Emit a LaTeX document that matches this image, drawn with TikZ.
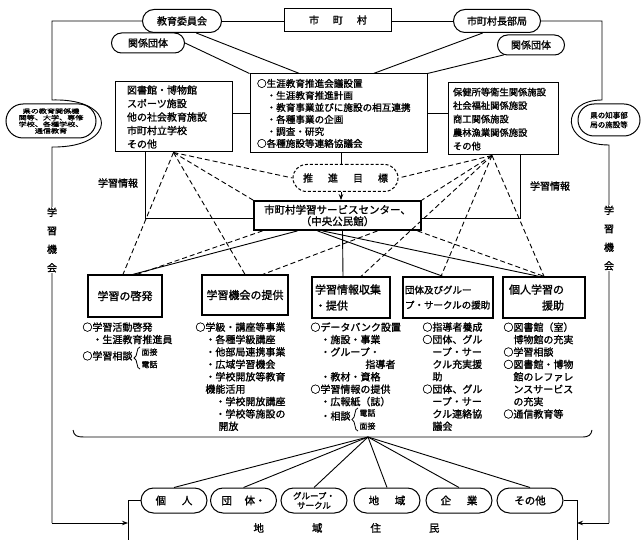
\documentclass[tikz,border=0pt]{standalone}
\usepackage{fontspec}
\setmainfont{Noto Sans CJK JP}[FakeBold=1.3]
\newfontfamily\widejp{Noto Sans CJK JP}[FakeBold=1.3,FakeStretch=1.35]
\usetikzlibrary{shapes.misc,arrows.meta,calc}
\tikzset{
  boxst/.style={draw,line width=1pt,inner sep=0pt},
  stadst/.style={draw,rounded rectangle,line width=1pt,inner sep=0pt},
  fbox/.style={draw,line width=1.3pt,inner sep=2pt,font=\fontsize{11}{13}\selectfont},
  bst/.style={stadst,minimum width=66pt,minimum height=25pt,font=\fontsize{10.5}{12}\selectfont},
  dl/.style={line width=0.9pt,dash pattern=on 5pt off 3pt},
  col/.style={anchor=north west,align=left,inner sep=0pt,font=\fontsize{10}{12.4}\selectfont},
  small/.style={anchor=west,inner sep=0pt,font=\fontsize{8}{9}\selectfont},
  brcst/.style={line width=0.8pt},
  lbl/.style={inner sep=1pt},
  arr/.style={-{Stealth[length=6pt,width=4.5pt]}}
}
\begin{document}
\begin{tikzpicture}[x=1pt,y=-1pt,line width=0.9pt,font=\fontsize{10}{12}\selectfont]
\useasboundingbox[fill=white] (0,0) rectangle (643,540);

% top row
\node[stadst,minimum width=79pt,minimum height=23pt] (kyoi) at (182,21) {教育委員会};
\node[boxst,minimum width=107pt,minimum height=23pt] (shi) at (338,20) {市\hspace{1.4em}町\hspace{1.4em}村};
\node[stadst,minimum width=87pt,minimum height=23pt] (chob) at (497,21) {市町村長部局};
\node[stadst,minimum width=73pt,minimum height=20pt] (kanL) at (148,43) {関係団体};
\node[stadst,minimum width=67pt,minimum height=20pt] (kanR) at (531,45) {関係団体};
\draw (kyoi.east) -- (shi.west |- kyoi.east);
\draw (shi.east |- chob.west) -- (chob.west);

% second row boxes
\node[boxst,minimum width=177pt,minimum height=79pt,text width=163pt,align=left,inner xsep=7pt,font=\fontsize{9.6}{12}\selectfont] (cbox) at (338.5,113.5)
 {○生涯教育推進会議設置\\
  \hspace*{1em}・生涯教育推進計画\\
  \hspace*{1em}・教育事業並びに施設の相互連携\\
  \hspace*{1em}・各種事業の企画\\
  \hspace*{1em}・調査・研究\\
  ○各種施設等連絡協議会};
\node[boxst,minimum width=117pt,minimum height=70pt,text width=93pt,align=left,inner xsep=12pt,font=\fontsize{10}{13.5}\selectfont] (lbox) at (173.5,117)
 {図書館・博物館\\スポーツ施設\\他の社会教育施設\\市町村立学校\\その他};
\node[boxst,minimum width=110pt,minimum height=72pt,text width=100pt,align=left,inner xsep=5pt,font=\fontsize{9.3}{13.5}\selectfont] (rbox) at (503,119)
 {保健所等衛生関係施設\\社会福祉関係施設\\商工関係施設\\農林漁業関係施設\\その他};

\draw (kyoi.-40) -- ([xshift=50pt]cbox.north west);
\draw (kanL.east) -- (cbox.north west);
\draw (chob.-140) -- ([xshift=-54pt]cbox.north east);
\draw (kanR.200) -- (cbox.north east);
\draw (lbox.east |- cbox.west) -- (cbox.west);
\draw (cbox.east) -- (rbox.west |- cbox.east);

% suishin and center
\node[stadst,dash pattern=on 3pt off 2pt,minimum width=105pt,minimum height=27pt] (suishin) at (345.5,178) {推\hspace{1.5em}進\hspace{1.5em}目\hspace{1.5em}標};
\node[draw,line width=1.8pt,minimum width=167pt,minimum height=29pt,inner sep=1pt,align=center,font=\fontsize{10.5}{11.5}\selectfont] (center) at (337.5,215.5) {市町村学習サービスセンター、\\（中央公民館）};
\coordinate (vx) at (341,0);
\draw (cbox.south -| vx) -- (suishin.north -| vx);
\draw[arr] (suishin.south -| vx) -- (center.north -| vx);

\node[lbl] (jL) at (118,183) {学習情報};
\node[lbl] (jR) at (550,186) {学習情報};
\coordinate (lj) at (145,218);
\draw (lbox.south -| lj) -- (lj) -- (center.west |- lj);
\coordinate (rj) at (520,218);
\draw (rbox.south -| rj) -- (rj) -- (center.east |- rj);

% function boxes
\node[fbox,minimum width=74pt,minimum height=42pt] (f1) at (125,296) {学習の啓発};
\node[fbox,minimum width=86pt,minimum height=40pt] (f2) at (245,295) {学習機会の提供};
\node[fbox,minimum width=78pt,minimum height=41pt,text width=72pt,align=left] (f3) at (351,297.5) {学習情報収集\\[3pt]・提供};
\node[fbox,minimum width=90pt,minimum height=41pt,text width=86pt,align=left,font=\fontsize{9.5}{12}\selectfont] (f4) at (448,297.5) {団体及びグルー\\[3pt]プ・サークルの援助};
\node[fbox,minimum width=82pt,minimum height=41pt,text width=70pt,align=left] (f5) at (544,297.5) {個人学習の\\[3pt]\hspace*{3em}援助};

% fans
\coordinate (L) at (lbox.south);
\coordinate (R) at ([xshift=-11pt]rbox.south);
\draw[dl] (L) -- ([xshift=-2pt]f1.north);
\draw[dl] (L) -- (f2.north);
\draw[dl] (L) -- (center.north west);
\draw[dl] (L) -- (suishin.west);
\draw[dl] (R) -- (suishin.east);
\draw[dl] (R) -- (center.north east);
\draw[dl] (R) -- ([xshift=10pt]f3.north);
\draw[dl] (R) -- ([xshift=-7pt]f4.north);
\draw[dl] (R) -- (f5.north);
\draw ([xshift=-40pt]center.south) -- ([xshift=8pt]f1.north);
\draw[dl] ([xshift=-75pt]center.south) -- ([xshift=12pt]f1.north);
\draw[dl] ([xshift=40pt]center.south) -- ([xshift=18pt]f2.north);
\draw ([xshift=5pt]center.south) -- ([xshift=-8pt]f3.north);
\draw ([xshift=-20pt]center.south) -- ([xshift=-5pt]f4.north);
\draw ([xshift=-15pt]center.south) -- ([xshift=-5pt]f5.north);
\draw[dl] ([xshift=80pt]center.south) -- (f5.north);

% column texts
\node[col] (c1) at (82,322) {○学習活動啓発\\
 \hspace*{1em}・生涯教育推進員\\[4pt]
 ○学習相談};
\draw[brcst] (140,347) .. controls (136,347) and (138,357) .. (134,358) .. controls (138,359) and (136,369) .. (140,369);
\node[small] (c1a) at (141,352) {面接};
\node[small] (c1b) at (141,364.5) {電話};
\node[col] (c2) at (195,322) {○学級・講座等事業\\
 \hspace*{1em}・各種学級講座\\
 \hspace*{1em}・他部局連携事業\\
 \hspace*{1em}・広域学習機会\\
 \hspace*{1em}・学校開放等教育\\
 \hspace*{1em}機能活用\\
 \hspace*{2em}・学校開放講座\\
 \hspace*{2em}・学校等施設の\\
 \hspace*{2.3em}開放};
\node[col] (c3) at (310,322) {○データバンク設置\\
 \hspace*{1em}・施設・事業\\
 \hspace*{1em}・グループ・\\
 \hspace*{5.5em}指導者\\
 \hspace*{1em}・教材・資格\\
 ○学習情報の提供\\
 \hspace*{1em}・広報紙（誌）\\[2pt]
 \hspace*{1em}・相談};
\draw[brcst] (358,408) .. controls (354,408) and (356,418) .. (352,419.5) .. controls (356,421) and (354,431) .. (358,431);
\node[small] (c3a) at (359,413) {電話};
\node[small] (c3b) at (359,426) {面接};
\node[col] (c4) at (422,322) {○指導者養成\\
 ○団体、グル\\
 \hspace*{1em}ープ・サー\\
 \hspace*{1em}クル充実援\\
 \hspace*{1em}助\\
 ○団体、グル\\
 \hspace*{1em}ープ・サー\\
 \hspace*{1em}クル連絡協\\
 \hspace*{1em}議会};
\node[col] (c5) at (503,322) {○図書館（室）\\
 \hspace*{1em}博物館の充実\\
 ○学習相談\\
 ○図書館・博物\\
 \hspace*{1em}館のレファレ\\
 \hspace*{1em}ンスサービス\\
 \hspace*{1em}の充実\\
 ○通信教育等};

% brace
\draw (73,430) .. controls (74,436) and (77,437) .. (84,437) -- (582,437) .. controls (589,437) and (591,435) .. (592,430);
\coordinate (tip) at (368,437);

% bottom stadiums
\node[bst] (b1) at (174,500.5) {個\hspace{1.5em}人};
\node[bst] (b2) at (243.5,500.5) {団\hspace{1.2em}体・};
\node[bst,font=\fontsize{8.5}{9.5}\selectfont,align=center] (b3) at (314,500.5) {グループ・\\サークル};
\node[bst] (b4) at (387,500.5) {地\hspace{1.5em}域};
\node[bst] (b5) at (459,500.5) {企\hspace{1.5em}業};
\node[bst] (b6) at (530,500.5) {その他};
\foreach \b in {b1,b2,b3,b4,b5,b6} \draw (tip) -- (\b.north);
\coordinate (fl) at (128,540);
\coordinate (fr) at (577,540);
\draw (b1.west) -- (b1.west -| fl) -- (fl);
\draw (b6.east) -- (b6.east -| fr) -- (fr);
\node[font=\fontsize{10.5}{12}\selectfont] (jumin) at (346.5,528) {地\hspace{48pt}域\hspace{48pt}住\hspace{48pt}民};

% left and right side lines with bubbles
\node[stadst,minimum width=90pt,minimum height=34pt,align=center,font=\widejp\fontsize{6}{6.6}\selectfont] (lbub) at (51,121) {県の教育関係機\\関等、大学、専修\\学校、各種学校、\\通信教育};
\node[stadst,minimum width=62pt,minimum height=32pt,align=center,font=\fontsize{7.5}{9.5}\selectfont] (rbub) at (609,120) {県の知事部\\局の施設等};
\draw (kyoi.west) -| (52,100) .. controls (118,98) and (118,148) .. (52,147) -- (52,523) coordinate (la);
\draw[arr] (la) -- (la -| fl);
\draw (chob.east) -| (602,100) .. controls (560,100) and (560,145) .. (609,145) -- (609,523) coordinate (ra);
\draw[arr] (ra) -- (ra -| fr);
\node[fill=white,inner sep=1pt,align=center] (kL) at (52,240) {学\\[6.5pt]習\\[6.5pt]機\\[6.5pt]会};
\node[fill=white,inner sep=1pt,align=center] (kR) at (609,238) {学\\[6.5pt]習\\[6.5pt]機\\[6.5pt]会};
\end{tikzpicture}
\end{document}
